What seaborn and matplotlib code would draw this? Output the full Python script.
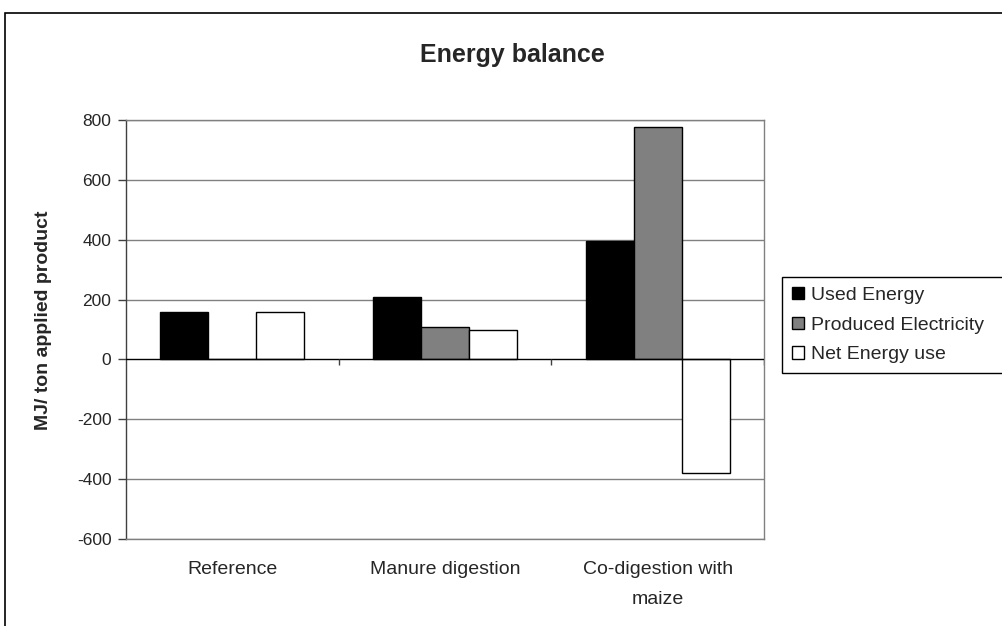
import matplotlib
matplotlib.use("Agg")
import matplotlib.pyplot as plt
from matplotlib.patches import Rectangle
import seaborn as sns
import pandas as pd

# Energy balance per scenario (MJ per ton applied product)
scenarios = ["Reference", "Manure digestion", "Co-digestion with\nmaize"]
used_energy = [160, 207, 396]
produced_electricity = [0, 107, 777]
net_energy_use = [160, 100, -381]
series_names = ["Used Energy", "Produced Electricity", "Net Energy use"]
series_colors = ["#000000", "#808080", "#ffffff"]
y_ticks = [-600, -400, -200, 0, 200, 400, 600, 800]

df = pd.DataFrame({
    "scenario": scenarios * 3,
    "series": [s for s in series_names for _ in scenarios],
    "value": used_energy + produced_electricity + net_energy_use,
})

sns.set_style("white")
plt.rcParams["font.family"] = ["Liberation Sans", "DejaVu Sans"]

W, H = 1002, 626
fig = plt.figure(figsize=(W / 100, H / 100), dpi=100)
ax = fig.add_axes([126 / W, 1 - 539 / H, (764 - 126) / W, (539 - 120) / H])

sns.barplot(data=df, x="scenario", y="value", hue="series",
            order=scenarios, hue_order=series_names,
            palette=series_colors, edgecolor="black", linewidth=1,
            width=0.677, saturation=1, ax=ax, zorder=3)

ax.set_xlim(-0.5, 2.5)
ax.set_ylim(-600, 800)
ax.set_yticks(y_ticks)
ax.set_yticklabels([str(v) for v in y_ticks], fontsize=12.5)
ax.tick_params(axis="y", direction="out", length=5.5, width=1, color="#404040",
               pad=5, left=True)
ax.set_xticks(range(len(scenarios)))
ax.set_xticklabels(scenarios, fontsize=14, linespacing=2.0)
ax.tick_params(axis="x", length=0, pad=16)
ax.set_xlabel("")

# horizontal gridlines and zero line
for v in y_ticks:
    if v != 0:
        ax.axhline(v, color="#808080", lw=1, zorder=1)
ax.axhline(0, color="black", lw=1, zorder=4)
# category separators on the zero line
ax.vlines([0.5, 1.5, 2.5], -17, 0, color="#404040", lw=1, zorder=4)

for side in ["top", "right", "bottom"]:
    ax.spines[side].set_color("#808080")
    ax.spines[side].set_linewidth(1)
ax.spines["left"].set_color("#404040")
ax.spines["left"].set_linewidth(1)

ax.set_ylabel("MJ/ ton applied product", fontsize=14, fontweight="bold")
ax.yaxis.set_label_coords(-0.116, 0.523)

fig.text(512 / W, 1 - 55 / H, "Energy balance", ha="center", va="center",
         fontsize=18, fontweight="bold")

handles, labels = ax.get_legend_handles_labels()
ax.legend(handles, labels, loc="upper left", mode="expand",
          bbox_to_anchor=(782 / W, 1 - 277 / H, 0.3, 0.0),
          bbox_transform=fig.transFigure,
          fontsize=14, frameon=True, fancybox=False, edgecolor="black",
          framealpha=1, handlelength=0.62, handleheight=0.62, handletextpad=0.35,
          labelspacing=0.65, borderpad=0.5, borderaxespad=0)
ax.get_legend().get_frame().set_linewidth(1)

# chart area border
fig.patches.append(Rectangle((5 / W, -0.1), 1.2, (1 - 13 / H) + 0.1,
                             transform=fig.transFigure, fill=False,
                             edgecolor="black", lw=1.2))

fig.savefig("out.png", dpi=100, facecolor="white")
